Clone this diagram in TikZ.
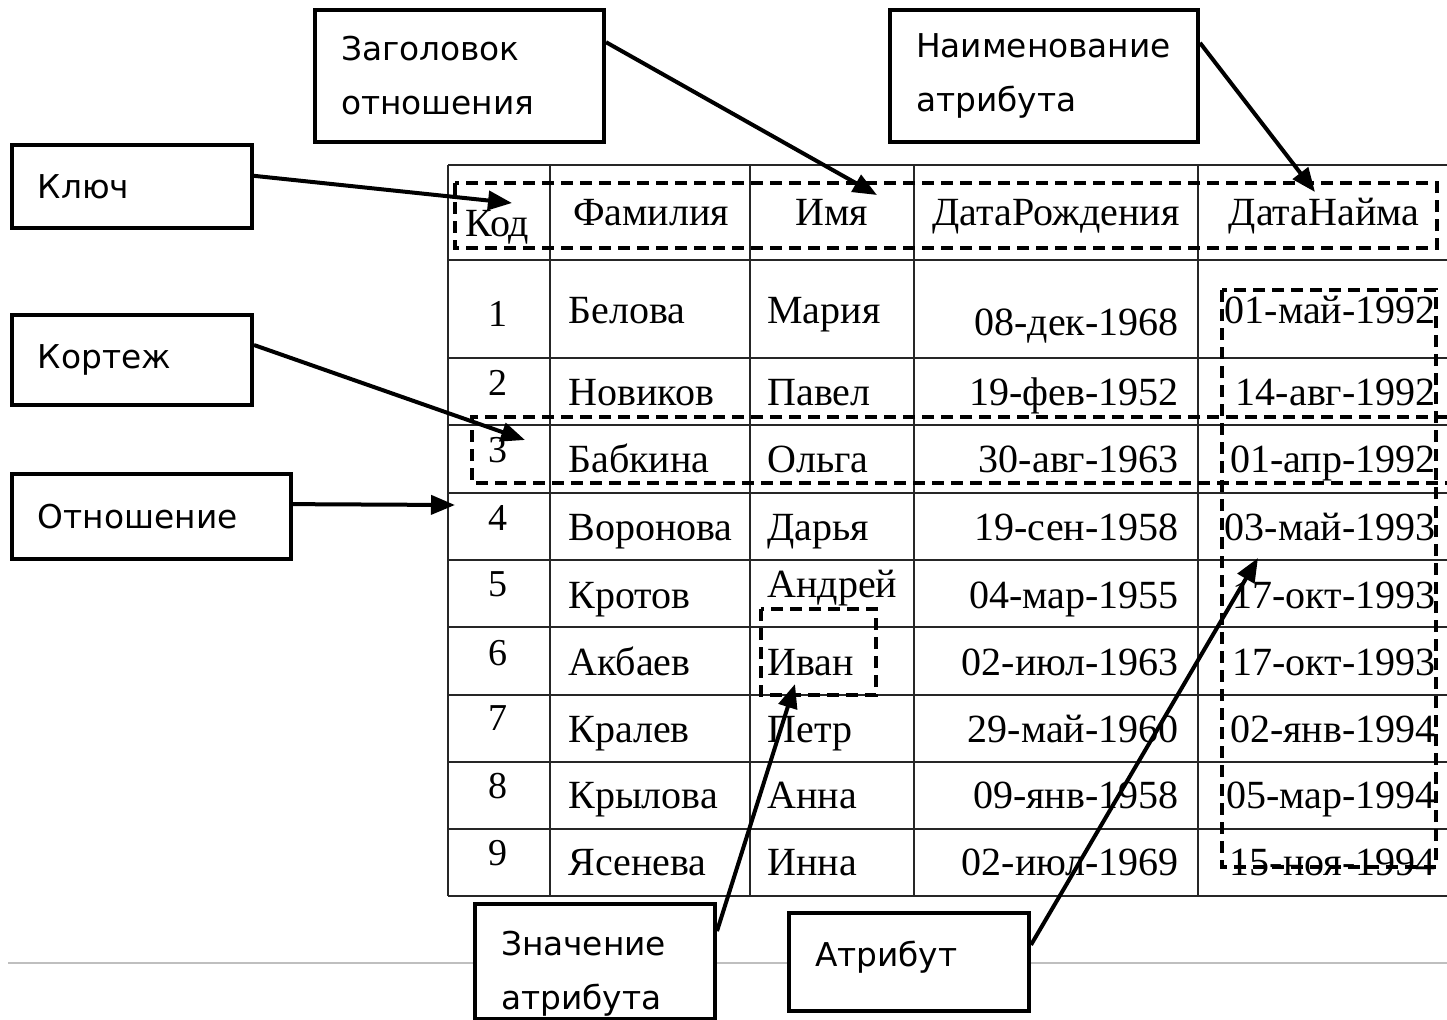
\documentclass[tikz,border=0pt]{standalone}
\usepackage{fontspec}
\usetikzlibrary{arrows.meta}
\newfontfamily\lblfont{DejaVu Sans}
\newfontfamily\tabfont{Liberation Serif}

\begin{document}
\begin{tikzpicture}[x=0.5pt, y=-0.5pt,
  >={Triangle[length=12pt, width=9.5pt]},
  lbl/.style={draw, line width=2pt, fill=white, align=left, inner xsep=13pt, inner ysep=0pt, font=\lblfont\fontsize{16.4}{27}\selectfont},
  cell/.style={inner sep=0pt, font=\tabfont\fontsize{20}{20}\selectfont},
  num/.style={inner sep=0pt, anchor=base, font=\tabfont\fontsize{19}{19}\selectfont},
  tabline/.style={line width=0.8pt, black!85},
  sel/.style={line width=2pt, dash pattern=on 6pt off 3.5pt},
  arr/.style={->, line width=2pt}]
\useasboundingbox (0,0) rectangle (1447,1019);

\draw [black!25, line width=0.6pt] (8,963) -- (1447,963);

% table
\foreach \y in {165,260,358,493,560,627,695,762,829,896}
  \draw [tabline] (448,\y) -- (1447,\y);
\draw [tabline, line width=1.3pt] (448,425) -- (1447,425);
\draw [tabline, line width=1.3pt] (448,493) -- (1447,493);
\foreach \x in {448,550,750,914,1198}
  \draw [tabline] (\x,165) -- (\x,896);

\node (H1) at (465,236) [cell, anchor=base west] {Код};
\node (H2) at (651,225) [cell, anchor=base] {Фамилия};
\node (H3) at (832,225) [cell, anchor=base] {Имя};
\node (H4) at (1056,225) [cell, anchor=base] {ДатаРождения};
\node (H5) at (1324,225) [cell, anchor=base] {ДатаНайма};

\node (N1) at (498,326) [num] {1};
\node (F1) at (568,323) [cell, anchor=base west] {Белова};
\node (I1) at (767,323) [cell, anchor=base west] {Мария};
\node (B1) at (1179,335) [cell, anchor=base east] {08-дек-1968};
\node (D1) at (1436,323) [cell, anchor=base east] {01-май-1992};

\node (N2) at (498,395) [num] {2};
\node (F2) at (568,405) [cell, anchor=base west] {Новиков};
\node (I2) at (767,405) [cell, anchor=base west] {Павел};
\node (B2) at (1179,405) [cell, anchor=base east] {19-фев-1952};
\node (D2) at (1436,405) [cell, anchor=base east] {14-авг-1992};

\node (N3) at (498,462) [num] {3};
\node (F3) at (568,472) [cell, anchor=base west] {Бабкина};
\node (I3) at (767,472) [cell, anchor=base west] {Ольга};
\node (B3) at (1179,472) [cell, anchor=base east] {30-авг-1963};
\node (D3) at (1436,472) [cell, anchor=base east] {01-апр-1992};

\node (N4) at (498,530) [num] {4};
\node (F4) at (568,540) [cell, anchor=base west] {Воронова};
\node (I4) at (767,540) [cell, anchor=base west] {Дарья};
\node (B4) at (1179,540) [cell, anchor=base east] {19-сен-1958};
\node (D4) at (1436,540) [cell, anchor=base east] {03-май-1993};

\node (N5) at (498,596) [num] {5};
\node (F5) at (568,608) [cell, anchor=base west] {Кротов};
\node (I5) at (767,597) [cell, anchor=base west] {Андрей};
\node (B5) at (1179,608) [cell, anchor=base east] {04-мар-1955};
\node (D5) at (1436,608) [cell, anchor=base east] {17-окт-1993};

\node (N6) at (498,665) [num] {6};
\node (F6) at (568,675) [cell, anchor=base west] {Акбаев};
\node (I6) at (767,675) [cell, anchor=base west] {Иван};
\node (B6) at (1179,675) [cell, anchor=base east] {02-июл-1963};
\node (D6) at (1436,675) [cell, anchor=base east] {17-окт-1993};

\node (N7) at (498,730) [num] {7};
\node (F7) at (568,742) [cell, anchor=base west] {Кралев};
\node (I7) at (767,742) [cell, anchor=base west] {Петр};
\node (B7) at (1179,742) [cell, anchor=base east] {29-май-1960};
\node (D7) at (1436,742) [cell, anchor=base east] {02-янв-1994};

\node (N8) at (498,798) [num] {8};
\node (F8) at (568,808) [cell, anchor=base west] {Крылова};
\node (I8) at (767,808) [cell, anchor=base west] {Анна};
\node (B8) at (1179,808) [cell, anchor=base east] {09-янв-1958};
\node (D8) at (1436,808) [cell, anchor=base east] {05-мар-1994};

\node (N9) at (498,865) [num] {9};
\node (F9) at (568,875) [cell, anchor=base west] {Ясенева};
\node (I9) at (767,875) [cell, anchor=base west] {Инна};
\node (B9) at (1179,875) [cell, anchor=base east] {02-июл-1969};
\node (D9) at (1436,875) [cell, anchor=base east] {15-ноя-1994};

% dashed marks
\draw [sel] (455,183) rectangle (1437,248);
\draw [sel] (1447,417) -- (472,417) -- (472,483) -- (1447,483);
\draw [sel] (1222,290) rectangle (1436,867);
\draw [sel] (761,609) rectangle (876,695);

% labels
\node (Zag) at (459.5,76) [lbl, text width=118.5pt, minimum height=66pt] {Заголовок\\отношения};
\node (Naim) at (1044,76) [lbl, text width=128pt, minimum height=66pt] {Наименование\\атрибута};
\node (Kl) at (132,186.5) [lbl, text width=94pt, minimum height=41.5pt] {Ключ};
\node (Kort) at (132,360) [lbl, text width=94pt, minimum height=45pt] {Кортеж};
\node (Otn) at (151.5,516.5) [lbl, text width=113.5pt, minimum height=42.5pt] {Отношение};
\node (Zn) at (473,902) [lbl, anchor=north west, text width=94pt, text height=25.75pt, text depth=31.75pt] {Значение\\атрибута};
\node (Atr) at (787,911) [lbl, anchor=north west, text width=94pt, text height=26.75pt, text depth=22.25pt] {Атрибут};

\coordinate (T1) at (512,203);
\coordinate (T2) at (877,195);
\coordinate (T3) at (1315,192);
\coordinate (T4) at (525,440);
\coordinate (T5) at (455,505);
\coordinate (T6) at (795,684);
\coordinate (T7) at (1258,558);

\draw [arr] (Kl.5) -- (T1);
\draw [arr] (Zag.13) -- (T2);
\draw [arr] (Naim.12) -- (T3);
\draw [arr] (Kort.7) -- (T4);
\draw [arr] (Otn.5) -- (T5);
\draw [arr] (Zn.14) -- (T6);
\draw [arr] (Atr.8.5) -- (T7);

\end{tikzpicture}
\end{document}
